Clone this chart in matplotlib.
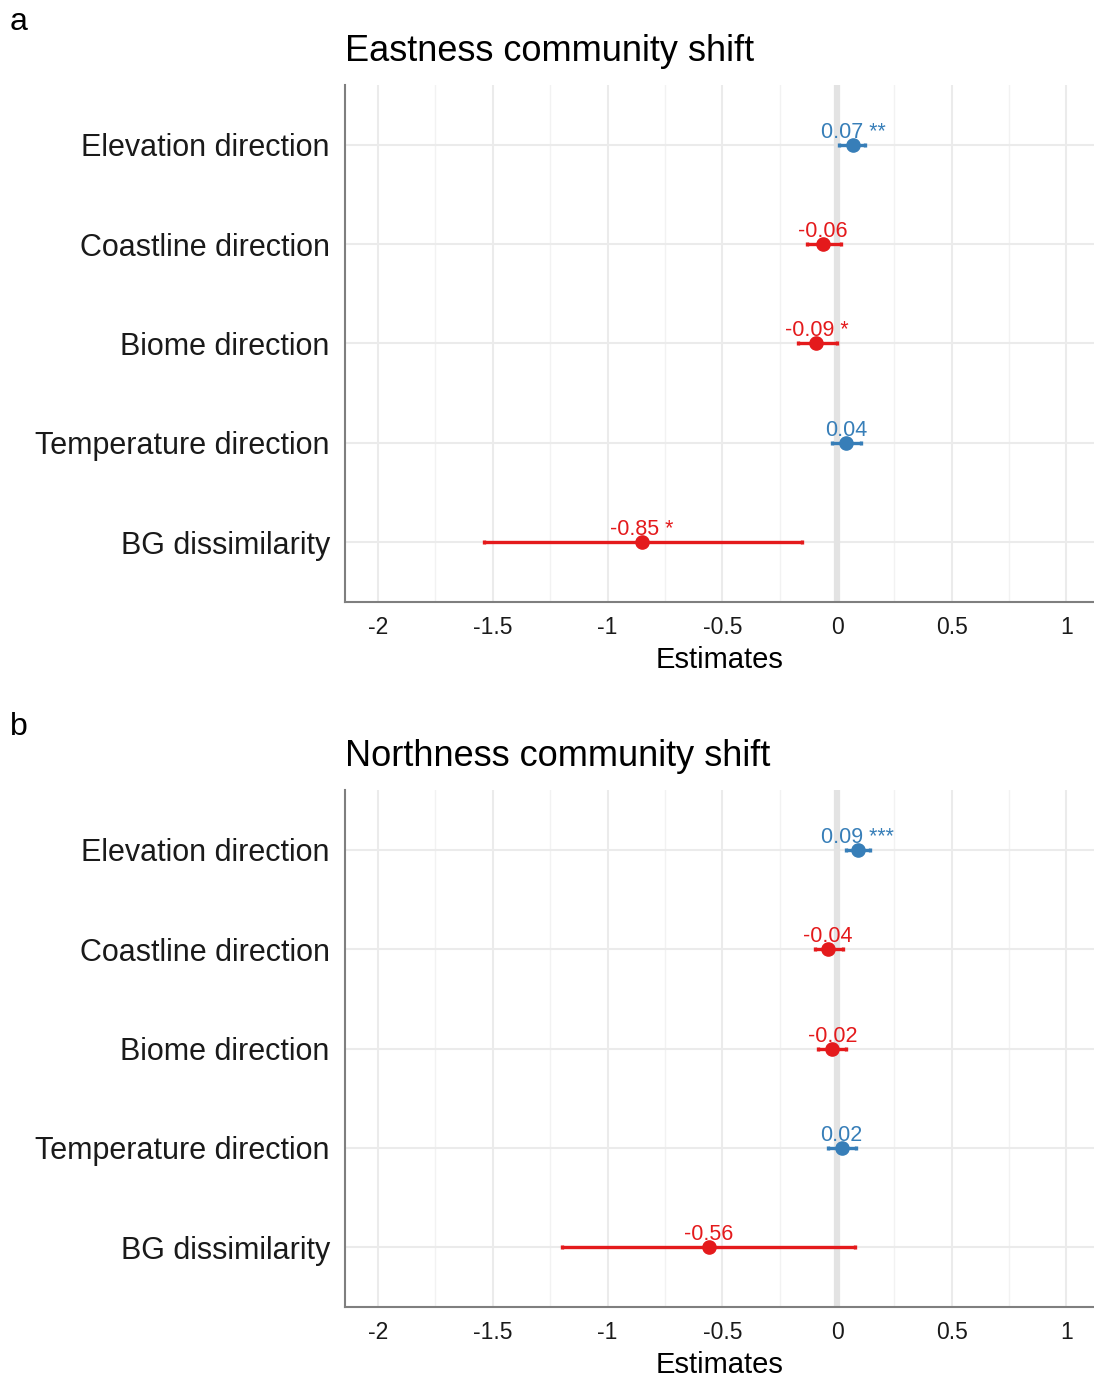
import numpy as np
import matplotlib
matplotlib.use("Agg")
import matplotlib.pyplot as plt

plt.rcParams['font.family'] = ['Liberation Sans', 'DejaVu Sans']

terms = ["Elevation direction", "Coastline direction", "Biome direction",
         "Temperature direction", "BG dissimilarity"]

# panel a: Eastness
east_est = [0.07, -0.06, -0.09, 0.04, -0.85]
east_lo = [0.009, -0.13, -0.17, -0.023, -1.54]
east_hi = [0.122, 0.017, 0.0, 0.105, -0.153]
east_lab = ["0.07 **", "-0.06", "-0.09 *", "0.04", "-0.85 *"]

# panel b: Northness
north_est = [0.09, -0.04, -0.02, 0.02, -0.56]
north_lo = [0.039, -0.096, -0.081, -0.04, -1.20]
north_hi = [0.144, 0.028, 0.039, 0.083, 0.078]
north_lab = ["0.09 ***", "-0.04", "-0.02", "0.02", "-0.56"]

xticks = [-2, -1.5, -1, -0.5, 0, 0.5, 1]
xticklabels = ["-2", "-1.5", "-1", "-0.5", "0", "0.5", "1"]

BLUE = "#377EB8"
RED = "#E41A1C"


def panel(ax, title, est, lo, hi, labs):
    n = len(terms)
    ypos = np.arange(n, 0, -1)
    ax.set_xlim(-2.144, 1.12)
    ax.set_ylim(0.4, n + 0.6)

    # grid
    for x in np.arange(-2, 1.01, 0.5):
        ax.axvline(x, color="#EBEBEB", lw=1.5, zorder=0)
    for x in np.arange(-1.75, 1.1, 0.5):
        ax.axvline(x, color="#F2F2F2", lw=1.0, zorder=0)
    for y in ypos:
        ax.axhline(y, color="#EBEBEB", lw=1.5, zorder=0)
    ax.axvline(0, color="#E3E3E3", lw=4.5, zorder=0.5)

    for y, e, l, h, t in zip(ypos, est, lo, hi, labs):
        c = BLUE if e > 0 else RED
        ax.errorbar(e, y, xerr=[[e - l], [h - e]], fmt="o", color=c,
                    ms=9.5, elinewidth=2.4, capsize=1.2, capthick=2.4,
                    zorder=3)
        ax.annotate(t, (e, y), xytext=(0, 7), textcoords="offset pixels",
                    ha="center", va="baseline", color=c, fontsize=15.5,
                    zorder=4)

    ax.set_yticks(ypos)
    ax.set_yticklabels(terms, fontsize=22, color="#1a1a1a")
    ax.set_xticks(xticks)
    ax.set_xticklabels(xticklabels, fontsize=16.5, color="#1a1a1a")
    ax.tick_params(axis="both", length=0)
    ax.tick_params(axis="y", pad=11)
    ax.tick_params(axis="x", pad=10)
    ax.set_xlabel("Estimates", fontsize=21, labelpad=5)
    ax.set_title(title, fontsize=26, loc="left", pad=17)

    for s in ["top", "right"]:
        ax.spines[s].set_visible(False)
    for s in ["left", "bottom"]:
        ax.spines[s].set_color("#7F7F7F")
        ax.spines[s].set_linewidth(1.5)


fig = plt.figure(figsize=(10.94, 13.8), dpi=100)
ax1 = fig.add_axes([0.3154, 0.5638, 0.6846, 0.3746])
ax2 = fig.add_axes([0.3154, 0.0529, 0.6846, 0.3746])

panel(ax1, "Eastness community shift", east_est, east_lo, east_hi, east_lab)
panel(ax2, "Northness community shift", north_est, north_lo, north_hi, north_lab)

fig.text(0.009, 0.995, "a", fontsize=23, va="top")
fig.text(0.009, 0.484, "b", fontsize=23, va="top")

fig.savefig("out.png", dpi=100)
